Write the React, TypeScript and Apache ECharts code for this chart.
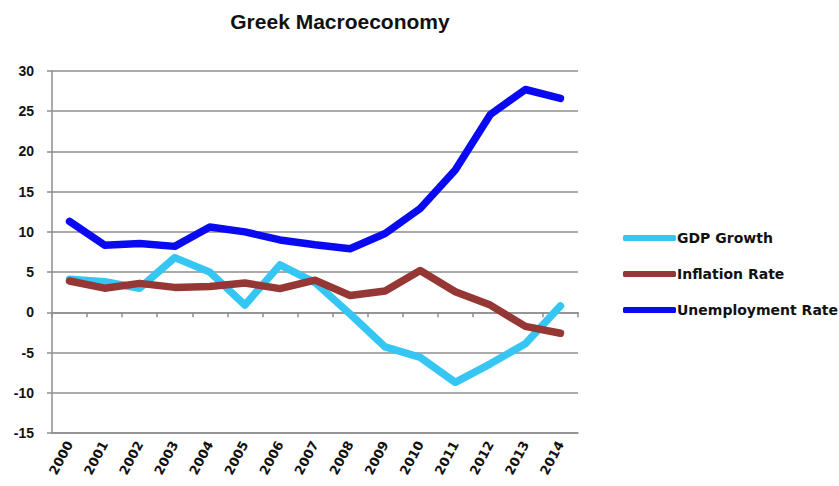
import React, { useEffect, useRef } from "react";
import * as echarts from "echarts";

const years = ["2000","2001","2002","2003","2004","2005","2006","2007","2008","2009","2010","2011","2012","2013","2014"];
const gdpGrowth = [4.1, 3.8, 3.0, 6.8, 5.0, 0.9, 5.9, 3.7, -0.2, -4.3, -5.6, -8.7, -6.4, -3.9, 0.8];
const inflationRate = [3.9, 3.0, 3.6, 3.1, 3.2, 3.65, 2.95, 4.0, 2.1, 2.65, 5.2, 2.55, 0.9, -1.75, -2.6];
const unemploymentRate = [11.3, 8.35, 8.55, 8.2, 10.6, 10.0, 9.0, 8.4, 7.9, 9.8, 12.9, 17.7, 24.6, 27.7, 26.6];

const gridColor = "#8e8e8e";
const font = "'Liberation Sans', Arial, sans-serif";
const wideFont = "'DejaVu Sans', sans-serif";

export default function App() {
  const ref = useRef<HTMLDivElement>(null);
  useEffect(() => {
    if (!ref.current) return;
    const chart = echarts.init(ref.current, undefined, { renderer: "svg" });
    const mk = (name: string, data: number[], color: string) => ({
      name,
      type: "line",
      data,
      symbol: "none",
      xAxisIndex: 0,
      lineStyle: { width: 7.5, color, cap: "round", join: "round" },
      itemStyle: { color },
    });
    chart.setOption({
      animation: false,
      title: {
        text: "Greek Macroeconomy",
        left: 335,
        textAlign: "center",
        top: 6,
        textStyle: { fontFamily: font, fontWeight: "bold", fontSize: 21, color: "#111" },
      },
      legend: {
        orient: "vertical",
        left: 618,
        top: 226,
        itemWidth: 53,
        itemHeight: 6,
        itemGap: 22,
        icon: "roundRect",
        textStyle: { fontFamily: wideFont, fontWeight: "bold", fontSize: 14, color: "#111", padding: [0, 0, 0, -4] },
        data: ["GDP Growth", "Inflation Rate", "Unemployment Rate"],
      },
      grid: { left: 52, right: 261, top: 71, bottom: 53, containLabel: false },
      xAxis: [
        {
          type: "category",
          data: years,
          position: "bottom",
          axisLine: { onZero: false, lineStyle: { color: gridColor, width: 1.5 } },
          axisTick: { show: false },
          axisLabel: {
            rotate: 62,
            margin: 9,
            interval: 0,
            fontFamily: wideFont,
            fontWeight: "bold",
            fontSize: 13,
            color: "#111",
          },
        },
        {
          type: "category",
          data: years,
          position: "top",
          axisLine: { show: true, onZero: true, lineStyle: { color: gridColor, width: 1.5 } },
          axisTick: { show: true, inside: true, length: 5, lineStyle: { color: gridColor, width: 1.5 } },
          axisLabel: { show: false },
          splitLine: { show: false },
        },
      ],
      yAxis: {
        type: "value",
        min: -15,
        max: 30,
        interval: 5,
        axisLine: { show: true, lineStyle: { color: gridColor, width: 1.5 } },
        axisTick: { show: true, length: 5, lineStyle: { color: gridColor, width: 1.5 } },
        splitLine: { show: true, lineStyle: { color: gridColor, width: 1.5 } },
        axisLabel: { margin: 18, fontFamily: font, fontWeight: "bold", fontSize: 14, color: "#111" },
      },
      series: [
        mk("GDP Growth", gdpGrowth, "#36c6f4"),
        mk("Inflation Rate", inflationRate, "#953735"),
        mk("Unemployment Rate", unemploymentRate, "#0a0af2"),
      ],
    });
    return () => chart.dispose();
  }, []);
  return <div ref={ref} style={{ width: 839, height: 486, position: "absolute", left: 0, top: 0 }} />;
}
